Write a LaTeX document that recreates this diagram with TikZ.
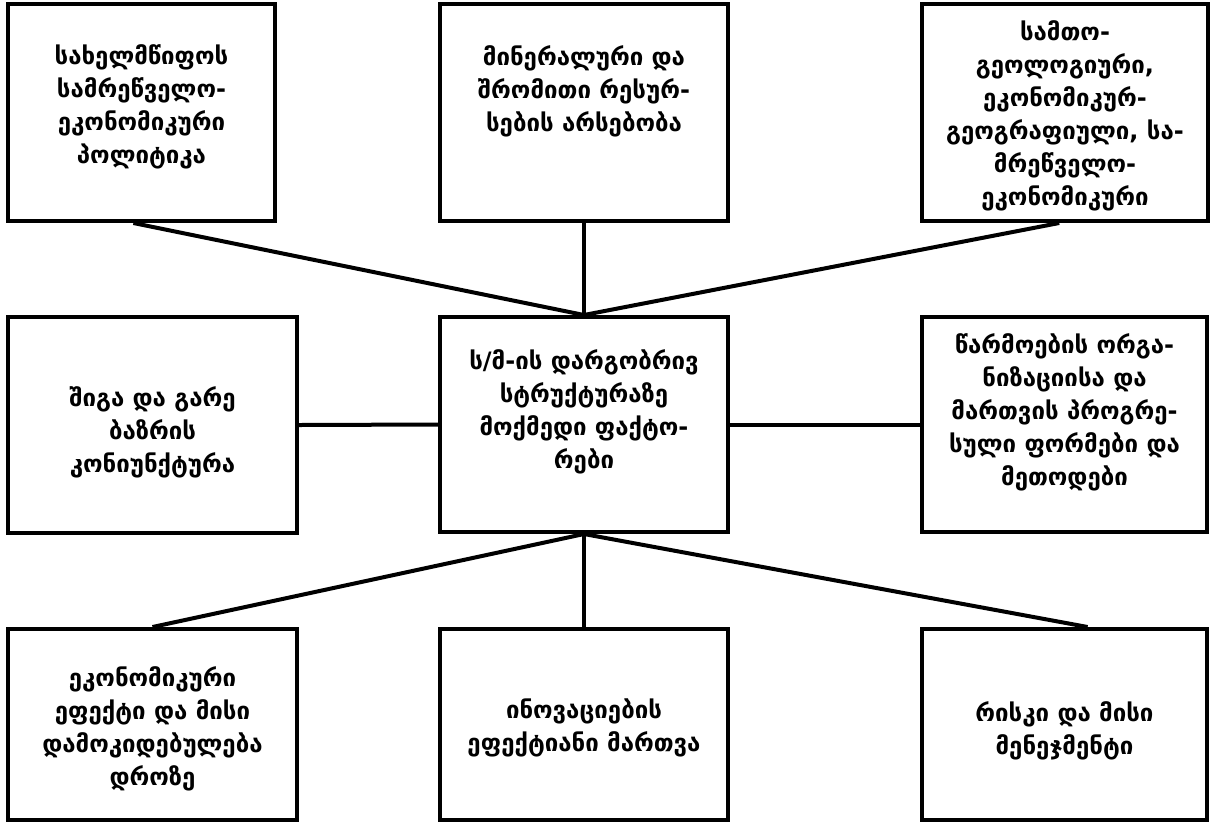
\documentclass[tikz,border=0pt]{standalone}
\usepackage{fontspec}
\setmainfont{DejaVu Sans}
\usetikzlibrary{calc}
\begin{document}
\begin{tikzpicture}[x=1pt,y=-1pt,
  box/.style={draw=black,line width=4pt,fill=white,inner sep=0pt},
  txt/.style={align=center,font=\bfseries\fontsize{24}{33}\selectfont,inner sep=0pt},
  conn/.style={line width=4pt}]
\useasboundingbox (0,0) rectangle (1210,823);
% boxes
\node[box,minimum width=267pt,minimum height=217pt] (a) at (141.5,112.5) {};
\node[box,minimum width=288pt,minimum height=217pt] (b) at (584,112.5) {};
\node[box,minimum width=286pt,minimum height=217pt] (c) at (1065,112.5) {};
\node[box,minimum width=289pt,minimum height=216pt] (d) at (152.5,425) {};
\node[box,minimum width=288pt,minimum height=215pt] (e) at (584,424.5) {};
\node[box,minimum width=285pt,minimum height=215pt] (f) at (1064.5,424.5) {};
\node[box,minimum width=289pt,minimum height=191pt] (g) at (152.5,724.5) {};
\node[box,minimum width=288pt,minimum height=191pt] (h) at (584,724.5) {};
\node[box,minimum width=285pt,minimum height=191pt] (i) at (1064.5,724.5) {};
% texts
\node[txt] (ta) at (141.5,107) {სახელმწიფოს\\სამრეწველო-\\ეკონომიკური\\პოლიტიკა};
\node[txt] (tb) at (584,91) {მინერალური და\\შრომითი რესურ-\\სების არსებობა};
\node[txt] (tc) at (1065,116) {სამთო-\\გეოლოგიური,\\ეკონომიკურ-\\გეოგრაფიული, სა-\\მრეწველო-\\ეკონომიკური};
\node[txt] (td) at (152.5,432) {შიგა და გარე\\ბაზრის\\კონიუნქტურა};
\node[txt] (te) at (584,412) {ს/მ-ის დარგობრივ\\სტრუქტურაზე\\მოქმედი ფაქტო-\\რები};
\node[txt] (tf) at (1064.5,412) {წარმოების ორგა-\\ნიზაციისა და\\მართვის პროგრე-\\სული ფორმები და\\მეთოდები};
\node[txt] (tg) at (152.5,729) {ეკონომიკური\\ეფექტი და მისი\\დამოკიდებულება\\დროზე};
\node[txt] (th) at (584,728) {ინოვაციების\\ეფექტიანი მართვა};
\node[txt] (ti) at (1064.5,731) {რისკი და მისი\\მენეჯმენტი};
% connectors
\draw[conn] ($(a.south west)!0.47!(a.south east)$) -- (e.north);
\draw[conn] (b.south) -- (e.north);
\draw[conn] ($(c.south west)!0.48!(c.south east)$) -- (e.north);
\draw[conn] (d.east) -- (e.west);
\draw[conn] (e.east) -- (f.west);
\draw[conn] (e.south) -- ($(g.north west)!0.5!(g.north east)$);
\draw[conn] (e.south) -- (h.north);
\draw[conn] (e.south) -- ($(i.north west)!0.58!(i.north east)$);
\end{tikzpicture}
\end{document}
